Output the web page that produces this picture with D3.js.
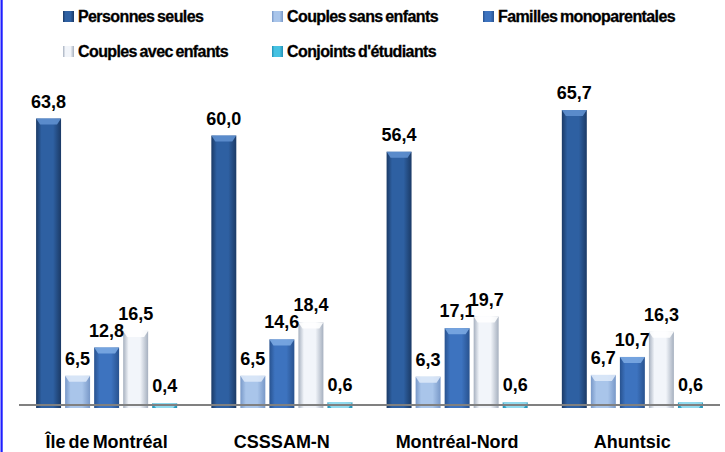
<!DOCTYPE html>
<html>
<head>
<meta charset="utf-8">
<script src="https://cdn.jsdelivr.net/npm/d3@7"></script>
<style>
  body { margin: 0; background: #fff; }
  svg { display: block; }
</style>
</head>
<body>
<div id="chart"></div>
<script>
// data
var categories = ["Île de Montréal", "CSSSAM-N", "Montréal-Nord", "Ahuntsic"];
var seriesNames = ["Personnes seules", "Couples sans enfants", "Familles monoparentales", "Couples avec enfants", "Conjoints d'étudiants"];
var personnesSeules = [63.8, 60.0, 56.4, 65.7];
var couplesSansEnfants = [6.5, 6.5, 6.3, 6.7];
var famillesMono = [12.8, 14.6, 17.1, 10.7];
var couplesAvecEnfants = [16.5, 18.4, 19.7, 16.3];
var conjointsEtudiants = [0.4, 0.6, 0.6, 0.6];
var seriesValues = [personnesSeules, couplesSansEnfants, famillesMono, couplesAvecEnfants, conjointsEtudiants];

// colours for each series: edge, middle, top bevel
var seriesColors = [
  {edge: "#1b3a66", mid: "#2e60a2", top: "#5f90cf"},
  {edge: "#7898c8", mid: "#a9c5ea", top: "#dbe8f8"},
  {edge: "#28528f", mid: "#3d73bf", top: "#7aa8e2"},
  {edge: "#a6b0bf", mid: "#f2f5fa", top: "#ffffff"},
  {edge: "#2390b5", mid: "#46c2e2", top: "#9adff2"}
];

var svgWidth = 725, svgHeight = 452;
var baseY = 405;

var svg = d3.select("#chart").append("svg")
  .attr("width", svgWidth)
  .attr("height", svgHeight);

var defs = svg.append("defs");
seriesColors.forEach(function(c, i) {
  var g = defs.append("linearGradient").attr("id", "grad" + i)
    .attr("x1", "0").attr("x2", "1").attr("y1", "0").attr("y2", "0");
  g.append("stop").attr("offset", "0%").attr("stop-color", c.edge);
  g.append("stop").attr("offset", "22%").attr("stop-color", c.mid);
  g.append("stop").attr("offset", "68%").attr("stop-color", c.mid);
  g.append("stop").attr("offset", "100%").attr("stop-color", c.edge);
});

// left blue frame line
svg.append("rect")
  .attr("x", 0.5).attr("y", 0)
  .attr("width", 2.2).attr("height", svgHeight)
  .attr("fill", "#1f1fff");

var x0 = d3.scaleBand().domain(categories).range([19, 720])
  .paddingInner(0.195).paddingOuter(0.0975);
var x1 = d3.scaleBand().domain(d3.range(seriesNames.length)).range([0, x0.bandwidth()])
  .paddingInner(0.14);
var y = d3.scaleLinear().domain([0, 70]).range([baseY, 90.7]);

var rows = [];
categories.forEach(function(cat, ci) {
  seriesValues.forEach(function(vals, si) {
    rows.push({cat: cat, s: si, v: vals[ci]});
  });
});

var bars = svg.append("g").selectAll("g.bar").data(rows).enter().append("g").attr("class", "bar");

bars.append("rect")
  .attr("x", function(d) { return x0(d.cat) + x1(d.s); })
  .attr("y", function(d) { return y(d.v); })
  .attr("width", x1.bandwidth())
  .attr("height", function(d) { return baseY + 3 - y(d.v); })
  .attr("fill", function(d) { return "url(#grad" + d.s + ")"; });

// top bevel highlight
bars.append("path")
  .attr("d", function(d) {
    var xl = x0(d.cat) + x1(d.s), xr = xl + x1.bandwidth(), t = y(d.v);
    var h = Math.min(6, baseY + 3 - t);
    return "M" + xl + "," + t + "L" + xr + "," + t + "L" + (xr - 4) + "," + (t + h) + "L" + (xl + 4) + "," + (t + h) + "Z";
  })
  .attr("fill", function(d) { return seriesColors[d.s].top; })
  .attr("opacity", 0.9);

// axis baseline
svg.append("line")
  .attr("x1", 19).attr("x2", 720)
  .attr("y1", baseY).attr("y2", baseY)
  .attr("stroke", "#808080").attr("stroke-width", 2);

// value labels
svg.append("g").selectAll("text").data(rows).enter().append("text")
  .attr("x", function(d) { return x0(d.cat) + x1(d.s) + x1.bandwidth() / 2; })
  .attr("y", function(d) { return y(d.v) - 11; })
  .attr("text-anchor", "middle")
  .style("font-family", "'Liberation Sans Narrow', 'Liberation Sans', Arial, sans-serif")
  .style("font-weight", "bold")
  .style("font-size", "18px")
  .style("fill", "#000")
  .text(function(d) { return d3.format(".1f")(d.v).replace(".", ","); });

// category labels
svg.append("g").selectAll("text").data(categories).enter().append("text")
  .attr("x", function(d) { return x0(d) + x0.bandwidth() / 2; })
  .attr("y", 448)
  .attr("text-anchor", "middle")
  .style("font-family", "'Liberation Sans', Arial, sans-serif")
  .style("font-weight", "bold")
  .style("font-size", "18px")
  .style("word-spacing", "-2px")
  .style("fill", "#000")
  .text(function(d) { return d; });

// legend, 3 columns by 2 rows
var legendCols = [63, 272, 483];
var legendRows = [22, 57];
var legend = svg.append("g").selectAll("g").data(seriesNames).enter().append("g")
  .attr("transform", function(d, i) {
    return "translate(" + legendCols[i % 3] + "," + legendRows[Math.floor(i / 3)] + ")";
  });
legend.append("rect")
  .attr("x", 0).attr("y", -11)
  .attr("width", 11).attr("height", 11)
  .attr("fill", function(d, i) { return "url(#grad" + i + ")"; });
legend.append("text")
  .attr("x", 15).attr("y", 0)
  .style("font-family", "'Liberation Sans', Arial, sans-serif")
  .style("font-weight", "bold")
  .style("font-size", "16px")
  .style("letter-spacing", "-0.6px")
  .style("word-spacing", "-1.2px")
  .style("fill", "#000")
  .style("stroke", "#000")
  .style("stroke-width", "0.3px")
  .text(function(d) { return d; });
</script>
</body>
</html>
